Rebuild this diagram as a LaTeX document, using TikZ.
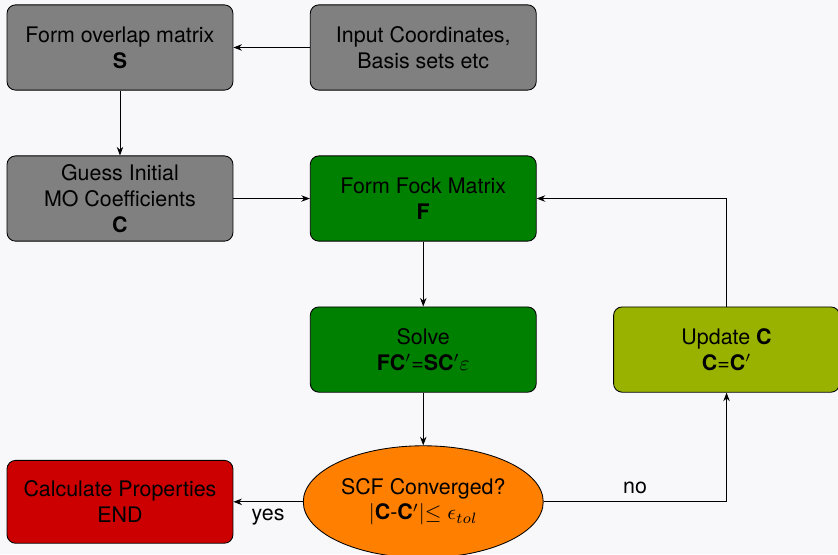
\documentclass[tikz,border=0pt]{standalone}
\usepackage{amsmath, amssymb}
\usepackage{fontspec}
\setmainfont{TeX Gyre Heros}
\usepackage{tikz}
\usetikzlibrary{arrows.meta,calc,positioning,shapes.geometric}

\definecolor{bgcol}{RGB}{248,248,250}
\definecolor{boxgray}{RGB}{128,128,128}
\definecolor{boxgreen}{RGB}{0,128,0}
\definecolor{boxolive}{RGB}{153,178,0}
\definecolor{boxred}{RGB}{204,0,0}
\definecolor{boxorange}{RGB}{255,128,0}

\begin{document}
\begin{tikzpicture}[
      on grid,
      node distance=2.48cm and 4.98cm,
      proc/.style={rectangle,rounded corners,draw,minimum width=3.71cm,minimum height=1.40cm,align=center},
      decide/.style={ellipse,draw,fill=boxorange,minimum width=3.94cm,minimum height=1.84cm,align=center,inner sep=0pt},
      >={Stealth[length=4pt,width=3pt]}
    ]
    \fill[bgcol] (-1.97,0.78) rectangle (11.79,-8.32);
    \useasboundingbox (-1.97,0.78) rectangle (11.79,-8.32);

    \node[proc,fill=boxgray] (S) at (0,0) {Form overlap matrix\\ \textbf{S}};
    \node[proc,fill=boxgray,right=of S] (inp) {Input Coordinates,\\ Basis sets etc};
    \node[proc,fill=boxgray,below=of S] (guess) {Guess Initial\\ MO Coefficients\\ \textbf{C}};
    \node[proc,fill=boxgreen,right=of guess] (fock) {Form Fock Matrix\\ \textbf{F}};
    \node[proc,fill=boxgreen,below=of fock] (solve) {Solve\\ \textbf{FC}$'$=\textbf{SC}$'\varepsilon$};
    \node[proc,fill=boxolive,right=of solve] (upd) {Update \textbf{C}\\ \textbf{C}=\textbf{C}$'$};
    \node[decide,below=2.5cm of solve] (scf) {SCF Converged?\\ $|$\textbf{C}-\textbf{C}$'|$$\leq \epsilon_{tol}$};
    \node[proc,fill=boxred,minimum height=1.36cm,left=of scf] (calc) {Calculate Properties\\ END};

    \draw[->] (inp) -- (S);
    \draw[->] (S) -- (guess);
    \draw[->] (guess) -- (fock);
    \draw[->] (fock) -- (solve);
    \draw[->] (solve) -- (scf);
    \draw[->] (scf) -- node[below]{yes} (calc);
    \draw[->] (scf) -| node[pos=0.25,above]{no} (upd);
    \draw[->] (upd) |- (fock);
  \end{tikzpicture}
\end{document}
